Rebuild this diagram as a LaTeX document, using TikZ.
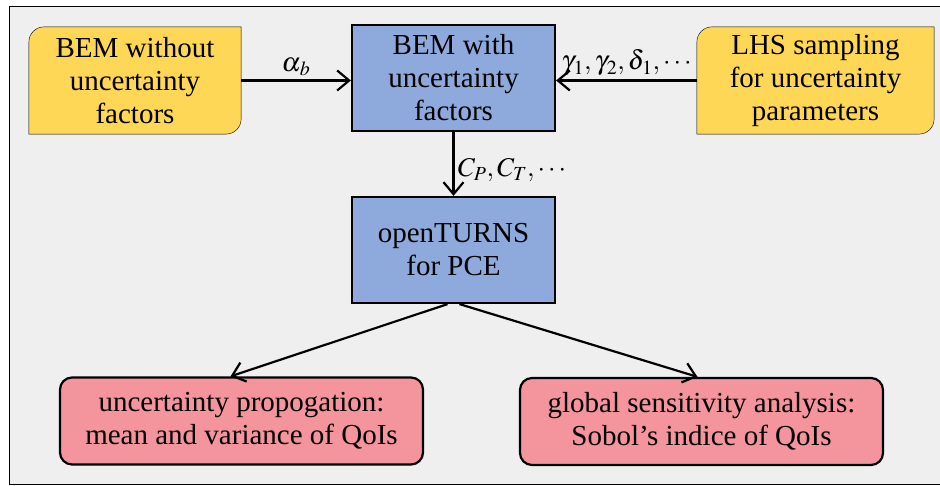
\documentclass[tikz,border=0pt]{standalone}
\usepackage{mathptmx}
\usepackage{fontspec}
\setmainfont{Liberation Serif}
\usetikzlibrary{arrows.meta,backgrounds}
\definecolor{bemyellow}{HTML}{FFD757}
\definecolor{bemblue}{HTML}{8EA9DB}
\definecolor{qoipink}{HTML}{F4949C}
\definecolor{framegray}{HTML}{EFEFEF}
\begin{document}
\begin{tikzpicture}[x=1pt, y=1pt, line width=2.2pt,
  >={Straight Barb[length=12pt,width=20pt]},
  box/.style={draw=black, fill=bemblue, minimum width=203pt, minimum height=106pt, inner sep=0pt, align=center, font=\fontsize{29}{33}\selectfont},
  tabbox/.style={minimum width=#1, minimum height=105pt, inner sep=0pt, align=center, font=\fontsize{29}{33}\selectfont},
  qoi/.style={draw=black, fill=qoipink, rounded corners=12pt, minimum width=363pt, minimum height=87pt, inner sep=0pt, align=center, font=\fontsize{29}{33}\selectfont},
  lbl/.style={font=\fontsize{27}{27}\selectfont}]
\useasboundingbox (0,0) rectangle (940,486);
\begin{scope}[on background layer]
  \fill[framegray] (9,2) rectangle (940,480);
  \draw (940,480) -- (9,480) -- (9,2) -- (940,2);
\end{scope}
% boxes
\node [tabbox=210pt] (bemold) at (135,405.5) {BEM without\\uncertainty\\factors};
\node [box] (bemnew) at (453.5,408) {BEM with\\uncertainty\\factors};
\node [tabbox=235pt] (lhs) at (815.5,405.5) {LHS sampling\\for uncertainty\\parameters};
\node [box] (pce) at (453.5,236) {openTURNS\\for PCE};
\node [qoi] (prop) at (241.5,65) {uncertainty propogation:\\mean and variance of QoIs};
\node [qoi] (sobol) at (701.5,64.5) {global sensitivity analysis:\\Sobol’s indice of QoIs};
% yellow tabs behind their text
\begin{scope}[on background layer]
\foreach \n in {bemold, lhs}
  \draw[fill=bemyellow] (\n.north east) -- ([xshift=15pt]\n.north west)
    arc[start angle=90, end angle=180, radius=15pt] -- (\n.south west)
    -- ([xshift=-15pt]\n.south east)
    arc[start angle=270, end angle=360, radius=15pt] -- cycle;
\end{scope}
% arrows
\draw[->] (bemold.east) -- node[above, lbl] {$\alpha_{\mkern1mu b}$} (bemold.east -| bemnew.west);
\draw[->] (lhs.west) -- node[above, lbl] {$\gamma_{\mkern1mu 1},\gamma_{\mkern1mu 2},\delta_{\mkern1mu 1},\cdots$} (lhs.west -| bemnew.east);
\draw[->] (bemnew) -- node[right, lbl, pos=0.6] {$C_P,C_T,\cdots$} (pce);
\draw[->] ([xshift=-6pt]pce.south) -- ([xshift=-11pt]prop.north);
\draw[->] ([xshift=6pt]pce.south) -- ([xshift=-4pt]sobol.north);
\end{tikzpicture}
\end{document}
